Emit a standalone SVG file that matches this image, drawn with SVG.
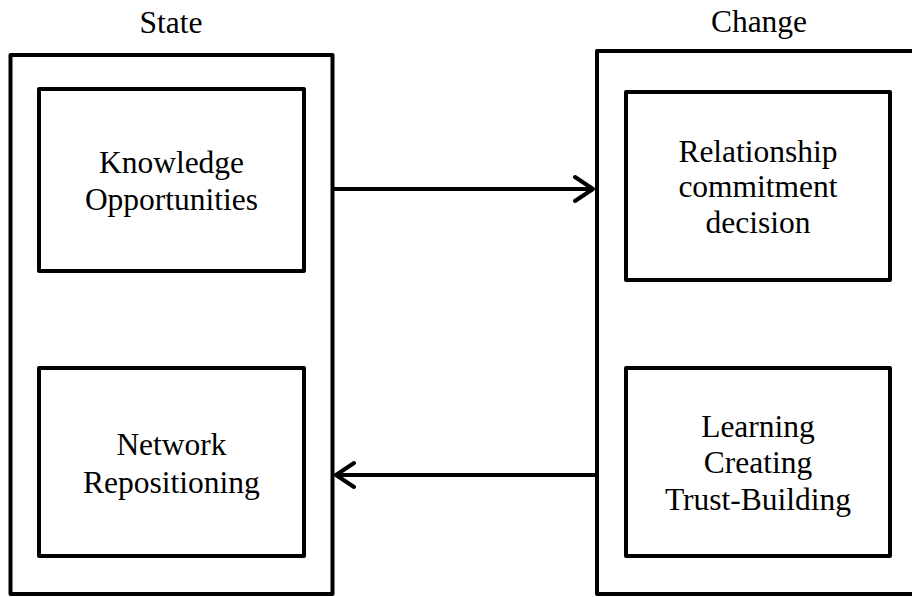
<svg xmlns="http://www.w3.org/2000/svg" width="912" height="597" viewBox="0 0 912 597">
<style>
.box{fill:none;stroke:#000;stroke-width:4;stroke-linejoin:round}
.t{font-family:"Liberation Serif","Times New Roman",serif;font-size:31.5px;fill:#000;text-anchor:middle}
.c{fill:none;stroke:#000;stroke-width:4;stroke-linecap:round;stroke-linejoin:round}
</style>
<rect width="912" height="597" fill="#fff"/>
<g id="state">
<rect class="box" x="10.5" y="55" width="322" height="539"/>
<text class="t" x="171" y="33">State</text>
</g>
<g id="change">
<rect class="box" x="597" y="51" width="340" height="543"/>
<text class="t" x="759" y="32">Change</text>
</g>
<g id="knowledge">
<rect class="box" x="39" y="89" width="265" height="182"/>
<text class="t" x="171.5" y="173">Knowledge</text>
<text class="t" x="171.5" y="210">Opportunities</text>
</g>
<g id="network">
<rect class="box" x="39" y="368" width="265" height="188"/>
<text class="t" x="171.5" y="455">Network</text>
<text class="t" x="171.5" y="493">Repositioning</text>
</g>
<g id="relationship">
<rect class="box" x="626" y="92" width="264" height="188"/>
<text class="t" x="758" y="162">Relationship</text>
<text class="t" x="758" y="197">commitment</text>
<text class="t" x="758" y="233">decision</text>
</g>
<g id="learning">
<rect class="box" x="626" y="368" width="264" height="188"/>
<text class="t" x="758" y="437">Learning</text>
<text class="t" x="758" y="473">Creating</text>
<text class="t" x="758" y="510">Trust-Building</text>
</g>
<g id="connectors">
<path class="c" d="M334 189 H593 M575 177 L593 189 L575 201"/>
<path class="c" d="M595 475 H336 M354 463 L336 475 L354 487"/>
</g>
</svg>
